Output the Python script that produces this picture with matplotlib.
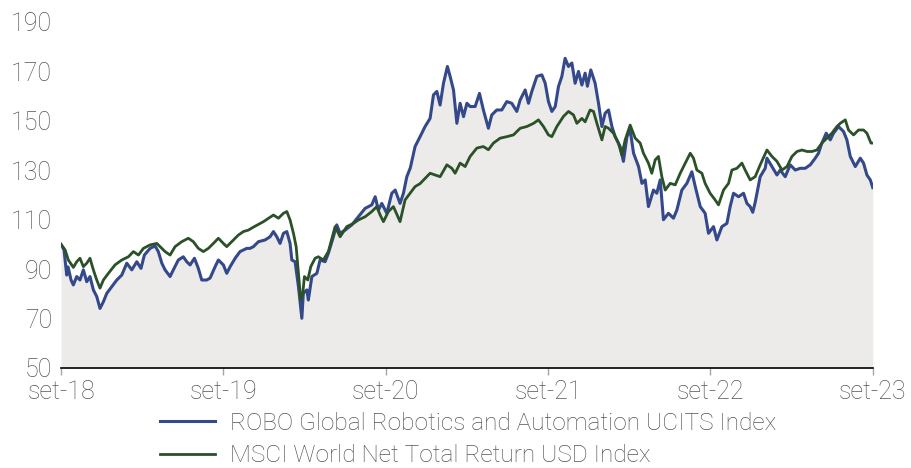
import matplotlib
matplotlib.use("Agg")
import matplotlib.pyplot as plt

plt.rcParams["font.family"] = ["Roboto", "DejaVu Sans"]

# Months elapsed since September 2018, and index levels (start = 100)
robo_months = [0, 0.22, 0.42, 0.52, 0.74, 0.91, 1.16, 1.40, 1.65, 1.90, 2.14, 2.39, 2.64, 2.88,
               3.13, 3.38, 3.75, 4.12, 4.49, 4.86, 5.23, 5.60, 5.91, 6.16, 6.58, 6.95, 7.19,
               7.45, 7.69, 8.06, 8.30, 8.67, 9.04, 9.29, 9.54, 9.86, 10.15, 10.40, 10.77,
               11.02, 11.39, 11.63, 12.00, 12.25, 12.50, 12.87, 13.23, 13.73, 13.97, 14.22,
               14.59, 15.08, 15.45, 15.70, 15.95, 16.19, 16.44, 16.69, 16.93, 17.06, 17.30,
               17.55, 17.80, 17.91, 18.17, 18.28, 18.54, 18.91, 19.15, 19.52, 19.76, 20.13,
               20.38, 20.63, 21.00, 21.49, 21.98, 22.48, 22.97, 23.22, 23.46, 23.71, 24.08,
               24.45, 24.70, 25.06, 25.31, 25.56, 25.82, 26.17, 26.54, 26.91, 27.28, 27.53,
               27.78, 28.02, 28.27, 28.56, 28.76, 29.01, 29.26, 29.50, 29.75, 30.00, 30.24,
               30.61, 30.93, 31.22, 31.59, 31.84, 32.21, 32.58, 32.95, 33.32, 33.69, 33.94,
               34.31, 34.55, 34.80, 35.17, 35.54, 35.79, 36.03, 36.28, 36.53, 36.77, 37.02,
               37.26, 37.51, 37.76, 38.00, 38.25, 38.50, 38.74, 38.91, 39.16, 39.48, 39.73,
               39.98, 40.22, 40.47, 40.72, 40.96, 41.33, 41.57, 41.83, 42.07, 42.32, 42.69,
               42.94, 43.18, 43.42, 43.79, 44.04, 44.29, 44.53, 44.90, 45.27, 45.52, 45.89,
               46.26, 46.63, 46.88, 47.25, 47.61, 47.86, 48.23, 48.48, 48.85, 49.22, 49.46,
               49.71, 50.08, 50.45, 50.70, 50.94, 51.13, 51.31, 51.68, 52.05, 52.18, 52.55,
               52.92, 53.16, 53.53, 53.90, 54.27, 54.64, 55.01, 55.38, 55.75, 55.99, 56.24,
               56.56, 56.86, 57.10, 57.47, 57.84, 58.09, 58.34, 58.71, 59.08, 59.32, 59.57,
               59.82, 60.0]
robo_values = [100, 97.8, 87.6, 90.9, 85.6, 83.6, 87, 85.6, 89.7, 84.9, 87, 81.6, 78.9, 74.1,
               76.8, 80.2, 82.9, 85.6, 87.6, 92.4, 89.7, 93, 90.3, 95.7, 98.4, 99.4, 97.1,
               92.4, 89.7, 87, 89.7, 93.7, 95, 93, 91.7, 94.4, 90.3, 85.6, 85.6,
               86.4, 91, 93.7, 91.7, 88.3, 91, 94.4, 97.1, 98.4, 98.4, 99.1,
               101.1, 101.8, 103.1, 105.2, 103.1, 100.4, 104.5, 105.2, 100.4, 93.7, 93,
               82.9, 70.1, 80.2, 81.6, 77.5, 87, 88.3, 93.7, 93, 96.4, 103.1,
               107.9, 104.5, 105.8, 107.9, 111.2, 114.6, 116, 119.3, 113.9, 116.6, 112.6,
               120.7, 122, 116.6, 120.7, 127.4, 131, 139.6, 143.6, 147.7, 151, 160.5,
               161.9, 156.4, 165.2, 172, 168, 162.5, 149, 157.1, 151.7, 157.1, 155.8,
               155.8, 161.1, 154.4, 147, 152.4, 154.4, 154.4, 157.8, 157.1, 153.8, 158.5,
               162.5, 157.1, 161.9, 168, 168.6, 165.2, 157.8, 153.8, 155.8, 163.9, 168,
               175.3, 172, 173.4, 165.2, 170, 164.5, 169.3, 164, 170.6, 165.2, 157.1,
               147.7, 153.1, 154.4, 147.7, 143.6, 139.6, 133.6, 143.6, 146.3, 136.9, 131.5,
               124.7, 126.1, 115.3, 122, 120.7, 126.1, 110, 112.6, 110.6, 113.9, 122,
               124.7, 129.4, 123.4, 115.3, 112.6, 104.5, 107.2, 101.8, 107.2, 108.5, 115.3,
               120.7, 119.3, 120.7, 116.6, 115.3, 113, 117, 127.4, 130.8, 134.9, 131.5,
               128.1, 130.1, 127.4, 132.2, 130.1, 130.8, 130.8, 132.2, 134.9, 136.9, 141,
               145, 142.3, 145, 147.7, 145.7, 142.3, 135.6, 131.5, 134.9, 132.9, 128.1,
               126.1, 123]

msci_months = [0, 0.30, 0.54, 0.91, 1.16, 1.40, 1.65, 1.90, 2.14, 2.39, 2.64, 2.88, 3.13, 3.50,
               3.99, 4.49, 4.98, 5.35, 5.72, 6.09, 6.58, 7.08, 7.45, 7.69, 8.06, 8.43, 8.92,
               9.41, 9.78, 10.15, 10.52, 10.89, 11.26, 11.63, 12.00, 12.25, 12.62, 13.11,
               13.48, 13.85, 14.22, 14.96, 15.70, 16.07, 16.44, 16.69, 16.93, 17.18, 17.38,
               17.55, 17.72, 17.87, 17.99, 18.24, 18.46, 18.78, 19.02, 19.39, 19.76, 20.26,
               20.63, 21.12, 21.61, 21.98, 22.48, 22.97, 23.34, 23.59, 23.83, 24.20, 24.57,
               25.06, 25.43, 25.80, 26.17, 26.54, 27.28, 28.02, 28.52, 28.89, 29.13, 29.50,
               29.87, 30.24, 30.74, 31.22, 31.59, 31.96, 32.46, 32.95, 33.44, 33.94, 34.43,
               34.93, 35.29, 35.66, 36.03, 36.28, 36.65, 37.14, 37.51, 37.88, 38.13, 38.50,
               38.74, 39.11, 39.36, 39.61, 39.98, 40.22, 40.47, 40.84, 41.20, 41.45, 41.70,
               42.07, 42.44, 42.81, 43.05, 43.42, 43.67, 43.92, 44.16, 44.41, 44.66, 45.03,
               45.40, 45.77, 46.14, 46.51, 46.75, 47.00, 47.37, 47.61, 47.98, 48.35, 48.60,
               48.97, 49.34, 49.59, 49.96, 50.33, 50.57, 50.94, 51.31, 51.68, 52.18, 52.55,
               52.92, 53.29, 53.66, 54.03, 54.40, 54.77, 55.14, 55.50, 55.87, 56.24, 56.61,
               56.98, 57.35, 57.60, 57.97, 58.21, 58.58, 58.95, 59.32, 59.57, 59.87, 60.0]
msci_values = [100, 97.8, 93.7, 90.7, 93, 94.4, 91, 92.4, 94.4, 89.7, 85.6, 82.3, 85.6, 88.3,
               91.7, 93.7, 95, 97.1, 95.7, 98.4, 99.8, 100.4, 98.4, 97.1, 95.7, 99.1, 101.1,
               102.5, 101.1, 98.4, 97.1, 98.4, 100.4, 102.5, 100.4, 99.1, 101.1, 103.8,
               105.2, 105.8, 107, 109.2, 111.9, 110.6, 112.6, 113.3, 109.9, 104.5, 99.1,
               88.3, 77.5, 80.2, 87, 85.6, 91, 94.4, 95, 93.7, 97.1, 107.2,
               103.1, 107.2, 108.5, 109.9, 111.2, 113.3, 115.3, 111.9, 109.2, 113.3, 115.3,
               109.2, 118, 120.7, 123.4, 124.6, 128.8, 127.4, 132.2, 130.8, 128.8, 132.9,
               131.5, 135.6, 139, 139.6, 138.3, 141, 143, 143.6, 144.3, 147, 147.7,
               149, 150.4, 147.7, 144.3, 143.6, 147.7, 151.8, 153.8, 152.4, 149, 151,
               149.6, 154.4, 153.8, 149, 142.3, 147.7, 147, 145, 141, 136.2, 142.3,
               148.3, 143, 141, 136.9, 132.9, 128.8, 134.2, 135.6, 127.4, 122, 124.7,
               124.1, 128.8, 132.9, 136.9, 134.9, 130.1, 128.8, 124.7, 120.7, 118, 116,
               122, 124.7, 130.1, 130.8, 132.9, 130.1, 126.1, 127.4, 132.2, 138.2, 135.6,
               133.6, 130.1, 131.5, 135.6, 137.6, 138.2, 137.6, 137.6, 138.2, 141, 143,
               145, 147.7, 149, 150.4, 146.3, 144.3, 146.3, 146.3, 145, 141, 141]

tick_months = [0, 12, 24, 36, 48, 60]
tick_labels = ["set-18", "set-19", "set-20", "set-21", "set-22", "set-23"]
y_ticks = [50, 70, 90, 110, 130, 150, 170, 190]

robo_name = "ROBO Global Robotics and Automation UCITS Index"
msci_name = "MSCI World Net Total Return USD Index"

BLUE = "#34498a"
GREEN = "#2a5128"
FILL = "#edebea"
TEXT = "#555555"

fig = plt.figure(figsize=(9.11, 4.68), dpi=100)
ax = fig.add_axes([0.067, 0.2137, 0.891, 0.7393])

ax.fill_between(robo_months, 50, robo_values, color=FILL, lw=0, zorder=1)
ax.plot(robo_months, robo_values, color=BLUE, lw=2.2, zorder=3, label=robo_name,
        solid_joinstyle="round")
ax.plot(msci_months, msci_values, color=GREEN, lw=2.0, zorder=4, label=msci_name,
        solid_joinstyle="round")

ax.set_xlim(0, 60)
ax.set_ylim(50, 190)
ax.set_yticks(y_ticks)
ax.set_xticks(tick_months)
ax.set_xticklabels(tick_labels)

for side in ("left", "right", "top"):
    ax.spines[side].set_visible(False)
ax.spines["bottom"].set_color("black")
ax.spines["bottom"].set_linewidth(1.2)
ax.spines["bottom"].set_zorder(5)

ax.tick_params(axis="y", length=0, pad=6.5, labelsize=18, labelcolor=TEXT)
ax.tick_params(axis="x", length=5, width=1, color="#a6a6a6", direction="out",
               pad=4, labelsize=18, labelcolor=TEXT)
for lab in ax.get_xticklabels() + ax.get_yticklabels():
    lab.set_fontweight("light")

leg = fig.legend(loc="upper left", bbox_to_anchor=(0.176, 0.120), frameon=False,
                 ncol=1, fontsize=17.6, handlelength=2.25, handletextpad=0.58,
                 labelspacing=0.38, borderaxespad=0, borderpad=0)
for t in leg.get_texts():
    t.set_color(TEXT)
    t.set_fontweight("light")

fig.savefig("out.png", dpi=100, facecolor="white")
